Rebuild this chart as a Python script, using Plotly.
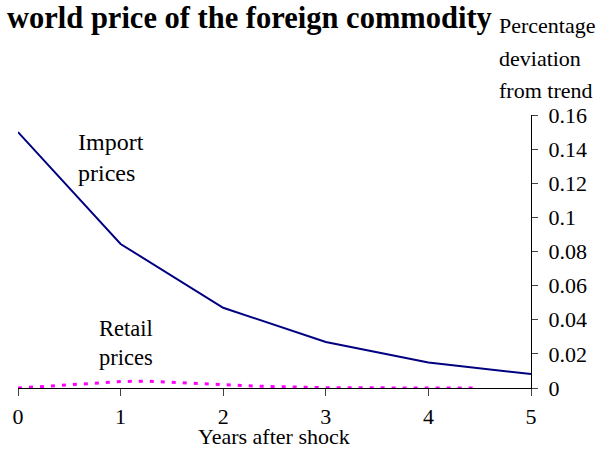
import plotly.graph_objects as go

years = [0, 1, 2, 3, 4, 5]
import_prices = [0.150, 0.0844, 0.047, 0.027, 0.015, 0.0082]

retail_x = [0, 0.25, 0.5, 0.75, 1.0, 1.25, 1.5, 1.75, 2.0, 2.25, 2.5, 2.75, 3.0, 3.25, 3.5, 3.75, 4.0, 4.25, 4.5]
retail_prices = [0.0, 0.0008, 0.0018, 0.0028, 0.0038, 0.004, 0.0033, 0.0025, 0.0018, 0.0013, 0.0008, 0.0004, 0.0002, 0.0001, 0.0001, 0.0, 0.0, 0.0, 0.0]

x_ticks = [0, 1, 2, 3, 4, 5]
y_ticks = [0, 0.02, 0.04, 0.06, 0.08, 0.1, 0.12, 0.14, 0.16]
y_tick_labels = ["0", "0.02", "0.04", "0.06", "0.08", "0.1", "0.12", "0.14", "0.16"]

FONT = "Liberation Serif, Times New Roman, serif"

fig = go.Figure()
fig.add_trace(go.Scatter(x=years, y=import_prices, mode="lines",
                         line=dict(color="#000080", width=2), showlegend=False))
fig.add_trace(go.Scatter(x=retail_x, y=retail_prices, mode="lines",
                         line=dict(color="#FF00FF", width=3, dash="4px,7px"), showlegend=False))

W, H = 601, 450
L, R, T, B = 18, 70, 115, 62
pw, ph = W - L - R, H - T - B

def px(x):
    return (x - L) / pw

def py(y):
    return (H - B - y) / ph

fig.update_layout(
    width=W, height=H,
    margin=dict(l=L, r=R, t=T, b=B),
    paper_bgcolor="white", plot_bgcolor="white",
    font=dict(family=FONT, size=21, color="black"),
    xaxis=dict(range=[0, 5], tickvals=x_ticks, ticks="outside", ticklen=7,
               showline=True, linecolor="black", linewidth=1, showgrid=False,
               zeroline=False, tickfont=dict(size=22), ticklabelstandoff=2),
    yaxis=dict(range=[0, 0.16], side="right", tickvals=y_ticks, ticktext=y_tick_labels,
               ticks="outside", ticklen=6, showline=True, linecolor="black", linewidth=1,
               showgrid=False, zeroline=False, tickfont=dict(size=22), ticklabelstandoff=6),
    annotations=[
        dict(text="<b>world price of the foreign commodity</b>", xref="paper", yref="paper",
             x=px(5), y=py(18), xanchor="left", yanchor="middle", showarrow=False,
             font=dict(size=30.5, family=FONT)),
        dict(text="Percentage", xref="paper", yref="paper", x=px(497), y=py(25),
             xanchor="left", yanchor="middle", showarrow=False, font=dict(size=22)),
        dict(text="deviation", xref="paper", yref="paper", x=px(497), y=py(58),
             xanchor="left", yanchor="middle", showarrow=False, font=dict(size=22)),
        dict(text="from trend", xref="paper", yref="paper", x=px(497), y=py(90),
             xanchor="left", yanchor="middle", showarrow=False, font=dict(size=22)),
        dict(text="Import<br>prices", xref="paper", yref="paper", x=px(76), y=py(157),
             xanchor="left", yanchor="middle", align="left", showarrow=False, font=dict(size=24)),
        dict(text="Retail<br>prices", xref="paper", yref="paper", x=px(97), y=py(343),
             xanchor="left", yanchor="middle", align="left", showarrow=False, font=dict(size=22.5)),
        dict(text="Years after shock", xref="paper", yref="paper", x=px(274), y=py(450),
             xanchor="center", yanchor="bottom", showarrow=False, font=dict(size=22),
             borderpad=0),
    ],
)

fig.write_html("out.html", config={"displayModeBar": False},
               post_script="document.body.style.margin='0';document.body.style.padding='0';")
